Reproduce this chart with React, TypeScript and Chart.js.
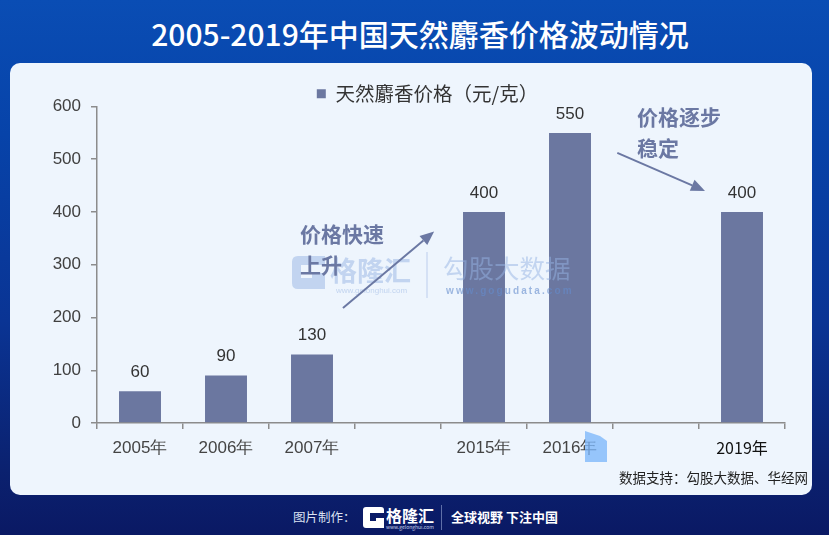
import React, { useEffect, useRef } from 'react';
import { Chart, registerables } from 'chart.js';

Chart.register(...registerables);

const titleText = '2005-2019年中国天然麝香价格波动情况';
const seriesLabel = '天然麝香价格（元/克）';
const categories = ['2005年', '2006年', '2007年', '', '2015年', '2016年', '', '2019年'];
const prices: (number | null)[] = [60, 90, 130, null, 400, 550, null, 400];
const yTickValues = [0, 100, 200, 300, 400, 500, 600];
const noteRise = ['价格快速', '上升'];
const noteStable = ['价格逐步', '稳定'];
const sourceText = '数据支持：勾股大数据、华经网';
const footerLabel = '图片制作：';
const footerBrand = '格隆汇';
const footerSlogan = '全球视野 下注中国';

const BAR = '#6b77a0';
const NOTE = '#6b78a3';
const CJK = '"Noto Sans CJK SC", "Noto Sans", sans-serif';
const LAT = '"Liberation Sans", Arial, sans-serif';

// canvas offset in the page
const OX = 10;
const OY = 63;

function arrow(ctx: CanvasRenderingContext2D, x1: number, y1: number, x2: number, y2: number) {
  const a = Math.atan2(y2 - y1, x2 - x1);
  const hl = 14;
  const hw = 6;
  const bx = x2 - hl * Math.cos(a);
  const by = y2 - hl * Math.sin(a);
  ctx.save();
  ctx.strokeStyle = NOTE;
  ctx.fillStyle = NOTE;
  ctx.lineWidth = 2;
  ctx.beginPath();
  ctx.moveTo(x1, y1);
  ctx.lineTo(bx, by);
  ctx.stroke();
  ctx.beginPath();
  ctx.moveTo(x2, y2);
  ctx.lineTo(bx + hw * Math.sin(a), by - hw * Math.cos(a));
  ctx.lineTo(bx - hw * Math.sin(a), by + hw * Math.cos(a));
  ctx.closePath();
  ctx.fill();
  ctx.restore();
}

function watermark(ctx: CanvasRenderingContext2D) {
  ctx.save();
  const gx = 292 - OX;
  const gy = 256 - OY;
  const wm = 'rgba(150,180,228,0.5)';
  ctx.fillStyle = wm;
  ctx.beginPath();
  ctx.moveTo(gx + 6, gy);
  ctx.lineTo(gx + 33, gy);
  ctx.lineTo(gx + 33, gy + 9);
  ctx.lineTo(gx + 9, gy + 9);
  ctx.lineTo(gx + 9, gy + 22);
  ctx.lineTo(gx + 20, gy + 22);
  ctx.lineTo(gx + 20, gy + 17);
  ctx.lineTo(gx + 33, gy + 17);
  ctx.lineTo(gx + 33, gy + 33);
  ctx.lineTo(gx + 6, gy + 33);
  ctx.quadraticCurveTo(gx, gy + 33, gx, gy + 27);
  ctx.lineTo(gx, gy + 6);
  ctx.quadraticCurveTo(gx, gy, gx + 6, gy);
  ctx.closePath();
  ctx.fill();
  ctx.font = `bold 27px ${CJK}`;
  ctx.textBaseline = 'middle';
  ctx.textAlign = 'left';
  ctx.fillText(footerBrand, 330 - OX, 271 - OY);
  ctx.font = `8px ${LAT}`;
  ctx.fillText('www.gelonghui.com', 336 - OX, 291 - OY);
  ctx.strokeStyle = 'rgba(180,200,235,0.6)';
  ctx.lineWidth = 1.5;
  ctx.beginPath();
  ctx.moveTo(427 - OX, 252 - OY);
  ctx.lineTo(427 - OX, 298 - OY);
  ctx.stroke();
  ctx.fillStyle = 'rgba(150,180,228,0.5)';
  ctx.font = `25.5px ${CJK}`;
  ctx.fillText('勾股大数据', 443 - OX, 268 - OY);
  ctx.fillStyle = 'rgba(100,140,205,0.6)';
  ctx.font = `bold 10px ${LAT}`;
  (ctx as any).letterSpacing = '2.1px';
  ctx.fillText('www.gogudata.com', 446 - OX, 291 - OY);
  (ctx as any).letterSpacing = '0px';
  ctx.restore();
}

const decoPlugin = {
  id: 'deco',
  afterLayout(chart: any) {
    const lg = chart.legend;
    if (lg) {
      lg.left += 30;
      lg.right += 30;
      lg.top += 7;
      lg.bottom += 7;
    }
  },
  afterDatasetsDraw(chart: any) {
    const ctx: CanvasRenderingContext2D = chart.ctx;
    const xs = chart.scales.x;
    const ys = chart.scales.y;
    const meta = chart.getDatasetMeta(0);
    watermark(ctx);
    ctx.save();
    // value labels
    ctx.fillStyle = '#333';
    ctx.font = `17px ${LAT}`;
    ctx.textAlign = 'center';
    ctx.textBaseline = 'middle';
    meta.data.forEach((bar: any, i: number) => {
      const v = prices[i];
      if (v == null) return;
      ctx.fillText(String(v), bar.x, bar.y - 19);
    });
    // notes
    const P = (i: number, v: number) => [xs.getPixelForValue(i), ys.getPixelForValue(v)];
    ctx.fillStyle = NOTE;
    ctx.font = `bold 21px ${CJK}`;
    ctx.textAlign = 'left';
    let [tx, ty] = P(1.86, 358);
    ctx.fillText(noteRise[0], tx, ty);
    [tx, ty] = P(1.86, 299);
    ctx.fillText(noteRise[1], tx, ty);
    [tx, ty] = P(5.78, 580);
    ctx.fillText(noteStable[0], tx, ty);
    [tx, ty] = P(5.78, 521);
    ctx.fillText(noteStable[1], tx, ty);
    let [a1, b1] = P(2.36, 218);
    let [a2, b2] = P(3.42, 363);
    arrow(ctx, a1, b1, a2, b2);
    [a1, b1] = P(5.55, 512);
    [a2, b2] = P(6.57, 440);
    arrow(ctx, a1, b1, a2, b2);
    ctx.restore();
  },
  afterDraw(chart: any) {
    const ctx: CanvasRenderingContext2D = chart.ctx;
    ctx.save();
    ctx.fillStyle = 'rgba(120,180,250,0.75)';
    ctx.beginPath();
    ctx.moveTo(585 - OX, 431 - OY);
    ctx.lineTo(600 - OX, 436 - OY);
    ctx.lineTo(607 - OX, 441 - OY);
    ctx.lineTo(607 - OX, 462 - OY);
    ctx.lineTo(585 - OX, 462 - OY);
    ctx.closePath();
    ctx.fill();
    ctx.restore();
  },
};

export default function App() {
  const ref = useRef<HTMLCanvasElement>(null);
  useEffect(() => {
    if (!ref.current) return;
    const chart = new Chart(ref.current, {
      type: 'bar',
      data: {
        labels: categories,
        datasets: [
          {
            label: seriesLabel,
            data: prices,
            backgroundColor: BAR,
            borderWidth: 0,
            categoryPercentage: 0.8,
            barPercentage: 0.61,
          },
        ],
      },
      options: {
        responsive: false,
        animation: false,
        devicePixelRatio: 1,
        layout: { padding: { left: 0, right: 27, top: 11, bottom: 0 } },
        plugins: {
          legend: {
            display: true,
            position: 'top',
            labels: {
              boxWidth: 9,
              boxHeight: 9,
              padding: 3,
              color: '#333',
              font: { family: CJK, size: 19.5 },
            },
          },
          tooltip: { enabled: false },
        },
        scales: {
          x: {
            offset: true,
            border: { display: true, color: '#8c8c8c', width: 1.5 },
            grid: { display: true, drawOnChartArea: false, drawTicks: true, tickLength: 6, color: '#8c8c8c', lineWidth: 1.5, offset: true },
            ticks: {
              padding: 9,
              autoSkip: false,
              maxRotation: 0,
              color: (c: any) => (c.index === 7 ? '#111' : '#444'),
              font: (c: any) => (c.index === 7 ? { family: CJK, size: 16 } : { family: LAT, size: 17 }),
            },
            afterFit: (s: any) => {
              s.height = 72;
            },
          },
          y: {
            min: 0,
            max: 600,
            afterBuildTicks: (s: any) => {
              s.ticks = yTickValues.map((v) => ({ value: v }));
            },
            border: { display: true, color: '#8c8c8c', width: 1.5 },
            grid: { display: true, drawOnChartArea: false, drawTicks: true, tickLength: 6, color: '#8c8c8c', lineWidth: 1.5 },
            ticks: { padding: 10, color: '#404040', font: { family: LAT, size: 17 } },
            afterFit: (s: any) => {
              s.width = 87;
            },
          },
        },
      },
      plugins: [decoPlugin],
    });
    return () => chart.destroy();
  }, []);

  return (
    <div
      style={{
        position: 'fixed',
        left: 0,
        top: 0,
        width: 829,
        height: 535,
        overflow: 'hidden',
        background: 'linear-gradient(180deg, #0a4db4 0%, #0743a9 25%, #0a3494 60%, #0b216f 88%, #0a1964 100%)',
        fontFamily: CJK,
      }}
    >
      <div
        style={{
          position: 'absolute',
          top: 12,
          left: 0,
          width: 840,
          textAlign: 'center',
          color: '#fff',
          fontSize: 30,
          fontWeight: 500,
          lineHeight: '42px',
        }}
      >
        {titleText}
      </div>
      <div
        style={{
          position: 'absolute',
          left: OX,
          top: OY,
          width: 802,
          height: 432,
          background: '#eef5fd',
          borderRadius: 10,
          overflow: 'hidden',
        }}
      >
        <canvas ref={ref} width={802} height={432} style={{ display: 'block' }} />
        <div
          style={{
            position: 'absolute',
            left: 609,
            top: 404,
            fontSize: 13.5,
            color: '#222',
            whiteSpace: 'nowrap',
            lineHeight: '20px',
          }}
        >
          {sourceText}
        </div>
      </div>
      <div style={{ position: 'absolute', left: 293, top: 508, fontSize: 12.5, color: '#dbe2f2', lineHeight: '18px', whiteSpace: 'nowrap' }}>
        {footerLabel}
      </div>
      <svg style={{ position: 'absolute', left: 363, top: 507 }} width={21} height={21} viewBox="0 0 21 21">
        <path d="M3 0 H18 A3 3 0 0 1 21 3 V6 H7 V14 H13 V11 H21 V21 H3 A3 3 0 0 1 0 18 V3 A3 3 0 0 1 3 0 Z" fill="#fff" />
      </svg>
      <div style={{ position: 'absolute', left: 386, top: 505, fontSize: 16, fontWeight: 700, color: '#fff', lineHeight: '20px', whiteSpace: 'nowrap' }}>
        {footerBrand}
      </div>
      <div style={{ position: 'absolute', left: 386, top: 524, fontSize: 5, color: '#c8d2ea', lineHeight: '6px', whiteSpace: 'nowrap' }}>
        www.gelonghui.com
      </div>
      <div style={{ position: 'absolute', left: 441, top: 505, width: 1, height: 25, background: '#5f6fa8' }} />
      <div style={{ position: 'absolute', left: 451, top: 508, fontSize: 13, fontWeight: 700, color: '#fff', lineHeight: '18px', whiteSpace: 'nowrap' }}>
        {footerSlogan}
      </div>
    </div>
  );
}
